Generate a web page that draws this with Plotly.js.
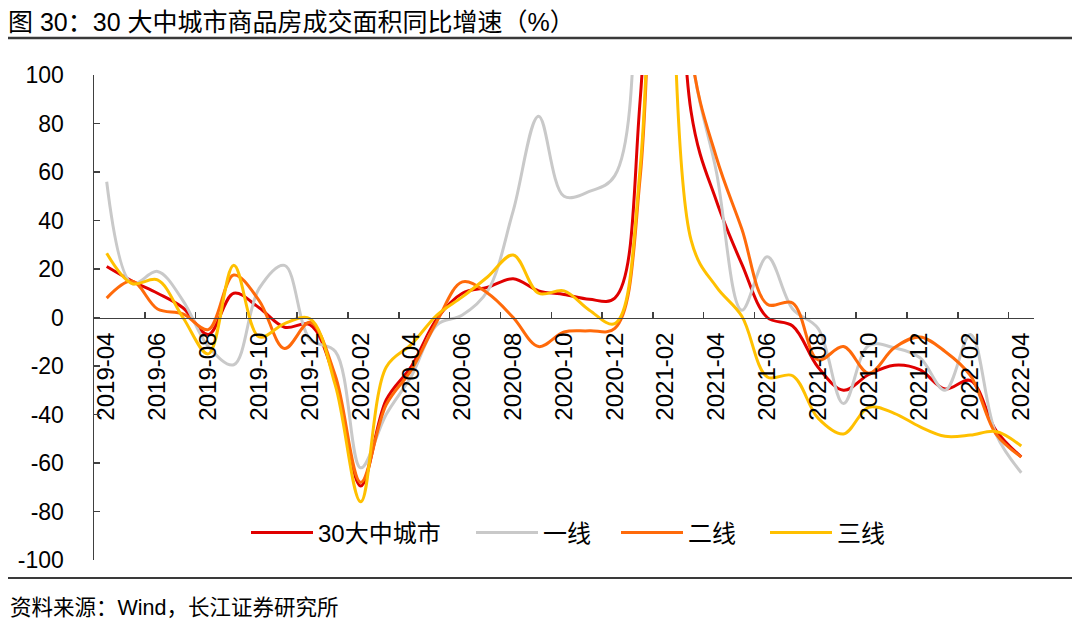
<!DOCTYPE html>
<html>
<head>
<meta charset="utf-8">
<script src="https://cdn.plot.ly/plotly-3.0.1.min.js"></script>
<style>
html,body{margin:0;padding:0;background:#fff;}
#chart{width:1080px;height:626px;}
</style>
</head>
<body>
<div id="chart"></div>
<script>
const months = ["2019-04","2019-05","2019-06","2019-07","2019-08","2019-09","2019-10","2019-11","2019-12",
  "2020-01","2020-02","2020-03","2020-04","2020-05","2020-06","2020-07","2020-08","2020-09","2020-10","2020-11","2020-12",
  "2021-01","2021-02","2021-03","2021-04","2021-05","2021-06","2021-07","2021-08","2021-09","2021-10","2021-11","2021-12",
  "2022-01","2022-02","2022-03","2022-04"];

const seriesNames = ["30大中城市","一线","二线","三线"];

const city30 = [21,15,10,4,-7,10,4,-4,-3,
  -26,-69.5,-34,-20,-0.5,10,12.5,16,11,9.5,7.5,8,
  90,420,85,48,22,0,-3.5,-20.5,-30,-23.5,-19.7,-21.5,
  -29.5,-26,-46.5,-57.5];

const tier1 = [56,14,19,7,-12,-19.5,12,21.5,-9,
  -14,-62,-40,-24,-3,1,11,44,83,50,52,58.5,
  170,380,110,60,3,25,3.5,-4.5,-35.5,-11.5,-12.5,-16.5,
  -30,-7,-48,-64];

const tier2 = [8,15,3.5,1.5,-5,17.5,7,-12.8,-2,
  -24,-68,-36,-21.5,-1.5,14.7,10,0,-12,-6,-5.5,-4.5,
  58,480,110,66,36.5,5.5,6,-17.5,-12,-23,-12.5,-8,
  -14,-24,-48,-57.5];

const tier3 = [26.5,14,15.5,0,-15,21.5,-8,-2.5,-0.5,
  -28,-76,-20.5,-11,1,8.5,16.8,25.8,10,11,3,-2.5,
  62,520,32,12.6,0.5,-24.5,-24,-41.5,-48,-37,-39.5,-45,
  -49,-48.5,-47,-53];

const yTicks = [-100,-80,-60,-40,-20,0,20,40,60,80,100];

const colors = ["#E00000","#C9C9C9","#FF6A0A","#FFC000"];
const values = [city30, tier1, tier2, tier3];
const legendIds = ["legend","legend2","legend3","legend4"];
const legendStartPx = [246, 471, 616, 765];

const FONT = "Liberation Sans, Arial, 'Noto Sans CJK SC', sans-serif";

const traces = values.map((v, k) => ({
  type: "scatter",
  mode: "lines",
  name: seriesNames[k],
  legend: legendIds[k],
  x: months,
  y: v,
  line: {color: colors[k], width: 3, shape: "spline", smoothing: 1},
  hoverinfo: "x+y+name"
}));

const layout = {
  width: 1080,
  height: 626,
  margin: {l: 94, r: 46, t: 75, b: 66},
  paper_bgcolor: "#ffffff",
  plot_bgcolor: "#ffffff",
  font: {family: FONT, color: "#000000", size: 23},
  showlegend: true,
  title: {
    text: "图 30：30 大中城市商品房成交面积同比增速（%）",
    x: 8/1080, xanchor: "left", xref: "container",
    y: 1 - 22/626, yanchor: "middle", yref: "container",
    font: {family: FONT, size: 25, color: "#000000"}
  },
  xaxis: {
    type: "category",
    categoryorder: "array",
    categoryarray: months,
    range: [-0.5, months.length - 0.5],
    tickmode: "linear",
    tick0: 0,
    dtick: 2,
    tickson: "boundaries",
    ticks: "inside",
    ticklen: 6,
    tickwidth: 1.5,
    tickcolor: "#404040",
    tickangle: -90,
    tickfont: {family: FONT, size: 24, color: "#000000"},
    ticklabelstandoff: 4,
    showline: true,
    linecolor: "#404040",
    linewidth: 1.5,
    showgrid: false,
    zeroline: false,
    anchor: "free",
    position: 0.5,
    fixedrange: true
  },
  yaxis: {
    range: [-100, 100],
    tickmode: "array",
    tickvals: yTicks,
    ticktext: yTicks.map(String),
    ticks: "inside",
    ticklen: 6,
    tickwidth: 1.5,
    tickcolor: "#404040",
    tickfont: {family: FONT, size: 23, color: "#000000"},
    ticklabelstandoff: 24,
    showline: true,
    linecolor: "#404040",
    linewidth: 1.5,
    showgrid: false,
    zeroline: false,
    fixedrange: true
  },
  shapes: [
    {type: "line", xref: "paper", yref: "paper",
     x0: (8 - 94) / 940, x1: (1072 - 94) / 940,
     y0: (560 - 38) / 485, y1: (560 - 38) / 485,
     line: {color: "#3a3a3a", width: 2.5}},
    {type: "line", xref: "paper", yref: "paper",
     x0: (8 - 94) / 940, x1: (1072 - 94) / 940,
     y0: (560 - 578) / 485, y1: (560 - 578) / 485,
     line: {color: "#3a3a3a", width: 2}}
  ],
  annotations: [
    {text: "资料来源：Wind，长江证券研究所",
     xref: "paper", yref: "paper",
     x: (8 - 94) / 940, xanchor: "left",
     y: (560 - 608) / 485, yanchor: "middle",
     showarrow: false,
     font: {family: FONT, size: 21.5, color: "#000000"}}
  ]
};

legendIds.forEach((id, k) => {
  layout[id] = {
    orientation: "h",
    x: (legendStartPx[k] - 94) / 940,
    xanchor: "left",
    y: (560 - 533) / 485,
    yanchor: "middle",
    bgcolor: "rgba(0,0,0,0)",
    font: {family: FONT, size: 24, color: "#000000"},
    itemwidth: 62
  };
});

Plotly.newPlot("chart", traces, layout, {displayModeBar: false, staticPlot: true});
</script>
</body>
</html>
